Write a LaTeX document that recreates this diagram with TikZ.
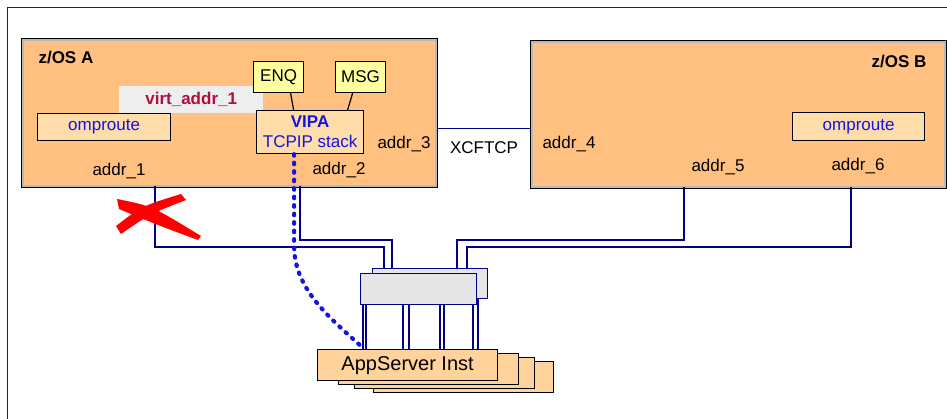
\documentclass[tikz,border=0pt]{standalone}
\usepackage{fontspec}
\setmainfont{Liberation Sans}
\usepackage{xcolor}
\usepackage{tikz}
\definecolor{sysfill}{HTML}{FFC080}
\definecolor{subfill}{HTML}{FFDDAA}
\definecolor{appfill}{HTML}{FFD39B}
\definecolor{tagfill}{HTML}{FFFFA0}
\definecolor{swfill}{HTML}{E5E5E5}
\definecolor{virtbg}{HTML}{EEEEEE}
\definecolor{navy}{HTML}{00008C}
\definecolor{ipblue}{HTML}{1414E0}
\definecolor{virtred}{HTML}{B0103C}
\tikzset{
  sysbox/.style={draw=black, line width=2pt, fill=sysfill, inner sep=0pt, anchor=north west},
  sysrim/.style={draw=gray!55, line width=2pt},
  subbox/.style={draw=black, line width=1.2pt, fill=subfill, inner sep=0pt, anchor=north west, text=ipblue},
  tagbox/.style={draw=black, line width=1.2pt, fill=tagfill, inner sep=0pt, anchor=north west,
    minimum width=50pt, minimum height=31pt},
  virtlab/.style={fill=virtbg, inner sep=0pt, anchor=north west, text=virtred,
    font=\fontsize{17}{19}\selectfont\bfseries},
  swbox/.style={draw=navy, line width=1.2pt, fill=swfill, inner sep=0pt, anchor=north west,
    minimum width=115pt, minimum height=30pt},
  appbox/.style={draw=black, line width=1.2pt, fill=appfill, inner sep=0pt, anchor=north west,
    minimum width=180pt, minimum height=31pt, font=\fontsize{20}{22}\selectfont},
  lab/.style={text=black},
  ttl/.style={text=black, font=\fontsize{17}{19}\selectfont\bfseries},
  link/.style={draw=navy, line width=1.3pt},
  vipdot/.style={draw=ipblue, line width=4.2pt, line cap=round, dash pattern=on 1.5pt off 7pt},
  redx/.style={fill=red},
  frame/.style={draw=black!85, line width=1pt},
}

\begin{document}
\begin{tikzpicture}[x=1pt, y=-1pt, font=\fontsize{17}{19}\selectfont]
  \useasboundingbox (0,0) rectangle (947,419);
  \draw[frame] (7,419) |- (947,8);
  % the two systems
  \node[sysbox, minimum width=415pt, minimum height=148pt] (zosA) at (21,38) {};
  \node[sysbox, minimum width=415pt, minimum height=147pt] (zosB) at (530,40) {};
  \foreach \s in {zosA,zosB}
    \draw[sysrim] ([shift={(2pt,2pt)}]\s.south west) rectangle ([shift={(-2pt,-2pt)}]\s.north east);
  \node[ttl, anchor=west] (tA) at (35,58) {z/OS A};
  \node[ttl, anchor=east] (tB) at (930,62) {z/OS B};
  \node[subbox, minimum width=133pt, minimum height=27pt] (ompA) at (37,113) {omproute};
  \node[subbox, minimum width=132pt, minimum height=28pt] (ompB) at (792,112) {omproute};
  \node[virtlab, minimum width=144pt, minimum height=27pt] (virt) at (119,86) {virt\_addr\_1};
  \node[tagbox] (enq) at (253,61) {ENQ};
  \node[tagbox] (msg) at (335,61) {MSG};
  \node[subbox, minimum width=107pt, minimum height=43pt, align=center, font=\fontsize{17}{20}\selectfont] (vip) at (256,110)
    {\textbf{VIPA}\\TCPIP stack};
  \draw[line width=1.2pt] ([xshift=12pt]enq.south) -- ([xshift=-16.5pt]vip.north);
  \draw[line width=1.2pt] ([xshift=-8pt]msg.south) -- ([xshift=37.5pt]vip.north);
  \foreach \n/\x/\y in {1/119/171, 2/339/170, 3/404/144, 4/569/144, 5/718/167, 6/858/166}
    \node[lab] (addr\n) at (\x,\y) {addr\_\n};
  % XCF link
  \draw[link] ([yshift=-15.5pt]zosA.east) -- ([yshift=-15.5pt]zosA.east -| zosB.west);
  \node[lab] (xcf) at (484,148) {XCFTCP};
  % ports and links to the switch
  \coordinate (pA1) at (155,186);
  \coordinate (pA2) at (300,186);
  \coordinate (pB5) at (684,187);
  \coordinate (pB6) at (851,187);
  \coordinate (swpos) at (372,268);
  \draw[link] (pA1) -- ++(0,61) -| ([xshift=12pt]swpos);
  \draw[link] (pA2) -- ++(0,54) -| ([xshift=20pt]swpos);
  \draw[link] (pB5) -- ++(0,53) -| ([xshift=85pt]swpos);
  \draw[link] (pB6) -- ++(0,60) -| ([xshift=95pt]swpos);
  % application server instances
  \foreach \n/\x/\y in {4/373/361, 3/354/357, 2/338/353}
    \node[appbox] (app\n) at (\x,\y) {};
  \node[appbox] (app1) at (317,349) {AppServer Inst};
  % switch
  \node[swbox] (swB) at (swpos) {};
  \foreach \dx in {-6,37,72,106}
    \draw[link] ([xshift=\dx pt]swB.south west) -- ([xshift=\dx pt]swB.south west |- app1.north);
  \node[swbox, minimum width=116pt, minimum height=31pt] (swF) at (360,273) {};
  \foreach \dx in {3,43,80,113}
    \draw[link] ([xshift=\dx pt]swF.south west) -- ([xshift=\dx pt]swF.south west |- app1.north);
  % VIPA takeover path
  \draw[vipdot] ([xshift=-16pt]vip.south) -- ++(0,92) .. controls +(0,45) and +(-30,-28) .. ([xshift=47pt]app1.north west);
  % broken link
  \fill[redx] (116,226) .. controls (142,206) .. (181,194) -- (186,200) .. controls (150,214) .. (121,234) -- cycle;
  \fill[redx] (117,199) .. controls (152,206) .. (201,236) -- (198,240) .. controls (160,226) .. (119,209) -- cycle;
\end{tikzpicture}
\end{document}
